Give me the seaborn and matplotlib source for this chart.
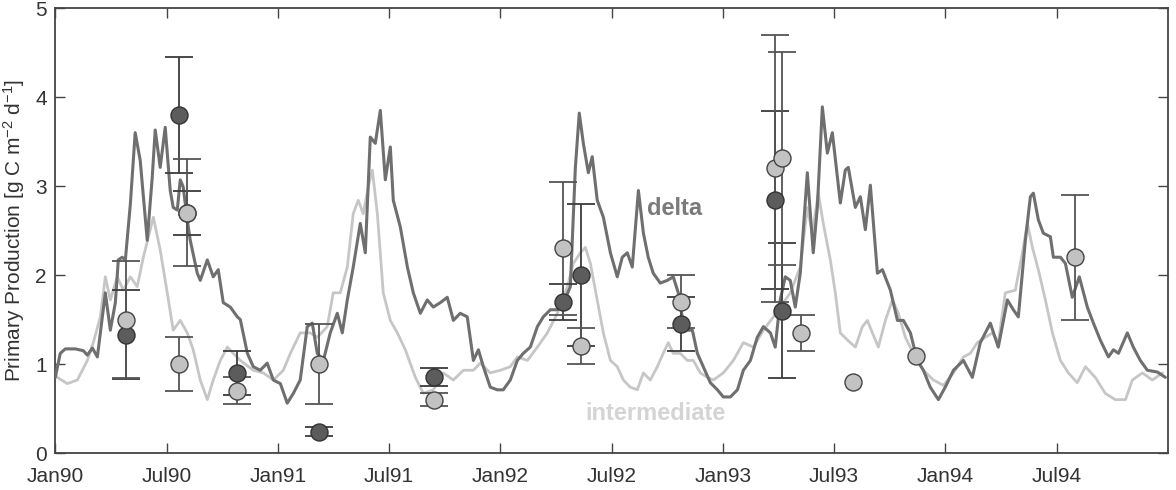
import numpy as np
import pandas as pd
import matplotlib
matplotlib.use("Agg")
import matplotlib.pyplot as plt
import seaborn as sns

# ------------------------
# DADOS (meses desde Jan90)
# ------------------------
delta_t = [0, 0.27, 0.54, 1.08, 1.51, 1.73, 2.0, 2.27, 2.7, 2.97, 3.24, 3.4, 3.61, 3.78, 4.05, 4.31,
           4.58, 4.96, 5.23, 5.39, 5.66, 5.93, 6.2, 6.36, 6.58, 6.74, 6.9, 7.12, 7.28, 7.66, 7.82, 8.2,
           8.52, 8.79, 9.06, 9.44, 9.82, 9.98, 10.36, 10.68, 11.06, 11.43, 11.76, 12.14, 12.51, 12.84,
           13.21, 13.59, 13.86, 14.13, 14.46, 14.83, 15.21, 15.48, 15.75, 16.07, 16.45, 16.72, 16.99,
           17.26, 17.53, 17.8, 18.07, 18.23, 18.61, 18.99, 19.31, 19.69, 20.06, 20.39, 20.77, 21.14,
           21.47, 21.84, 22.22, 22.55, 22.82, 23.09, 23.46, 23.84, 24.16, 24.54, 24.92, 25.24, 25.62,
           26.0, 26.32, 26.7, 27.08, 27.4, 27.78, 28.05, 28.26, 28.48, 28.75, 28.96, 29.23, 29.56,
           29.94, 30.31, 30.58, 30.85, 31.12, 31.45, 31.72, 31.98, 32.25, 32.63, 33.01, 33.33, 33.6,
           33.87, 34.14, 34.36, 34.63, 34.95, 35.33, 35.71, 36.03, 36.41, 36.79, 37.11, 37.49, 37.86,
           38.19, 38.57, 38.83, 39.1, 39.37, 39.64, 39.91, 40.18, 40.56, 40.88, 41.1, 41.37, 41.64,
           41.91, 42.34, 42.61, 42.77, 43.15, 43.42, 43.69, 43.96, 44.34, 44.61, 45.04, 45.42, 45.74,
           46.12, 46.49, 46.82, 47.19, 47.63, 48.0, 48.44, 48.98, 49.46, 49.89, 50.43, 50.86, 51.35,
           51.67, 51.94, 52.32, 52.59, 52.75, 53.02, 53.29, 53.67, 53.83, 54.21, 54.48, 54.85, 55.23,
           55.66, 55.99, 56.36, 56.8, 57.07, 57.34, 57.82, 58.14, 58.52, 58.9, 59.44, 59.87]
delta_pp = [0.85, 1.12, 1.17, 1.17, 1.15, 1.1, 1.18, 1.08, 1.8, 1.38, 1.69, 2.17, 2.2, 2.17, 2.8, 3.6,
            3.29, 2.39, 3.1, 3.63, 3.21, 3.66, 2.95, 2.76, 2.73, 3.07, 2.99, 2.62, 2.39, 2.02, 1.94, 2.17,
            1.98, 2.06, 1.69, 1.64, 1.53, 1.5, 1.12, 0.97, 0.93, 1.01, 0.82, 0.78, 0.56, 0.67,
            0.82, 1.42, 1.46, 1.12, 1.04, 1.35, 1.57, 1.35, 1.72, 2.09, 2.58, 2.25, 3.55,
            3.48, 3.85, 3.07, 3.44, 2.84, 2.54, 2.09, 1.8, 1.57, 1.72, 1.64, 1.69, 1.75,
            1.49, 1.57, 1.53, 1.04, 1.16, 0.97, 0.74, 0.71, 0.71, 0.82, 1.04, 1.12, 1.19,
            1.42, 1.53, 1.61, 1.61, 1.68, 1.87, 3.21, 3.82, 3.48, 3.15, 3.33, 2.84, 2.65,
            2.25, 1.98, 2.2, 2.25, 2.09, 2.95, 2.47, 2.2, 2.02, 1.91, 1.94, 1.98, 1.8,
            1.46, 1.38, 1.38, 1.12, 0.97, 0.79, 0.71, 0.63, 0.63, 0.71, 0.93, 1.04, 1.3,
            1.42, 1.35, 1.19, 1.72, 1.98, 1.94, 1.64, 2.02, 3.15, 2.25, 2.76, 3.89, 3.37,
            3.6, 2.81, 3.18, 3.21, 2.76, 2.88, 2.51, 3.01, 2.02, 2.06, 1.83, 1.49, 1.49,
            1.35, 1.04, 0.93, 0.74, 0.6, 0.74, 0.93, 1.04, 0.85, 1.24, 1.46, 1.19, 1.72,
            1.61, 1.53, 2.39, 2.88, 2.92, 2.62, 2.47, 2.43, 2.2, 2.2, 2.13, 1.75, 1.98,
            1.64, 1.46, 1.27, 1.08, 1.16, 1.12, 1.35, 1.19, 1.04, 0.93, 0.91, 0.85]

inter_t = [0, 0.11, 0.65, 1.19, 1.73, 2.05, 2.43, 2.7, 2.97, 3.34, 3.67, 4.05, 4.42, 4.75, 5.29, 5.66,
           6.04, 6.36, 6.74, 7.12, 7.44, 7.82, 8.2, 8.52, 8.9, 9.28, 9.6, 9.98, 10.68, 11.22, 11.76,
           12.3, 12.68, 13.21, 13.75, 14.13, 14.67, 14.99, 15.37, 15.75, 16.07, 16.34, 16.61, 16.88,
           17.1, 17.37, 17.69, 18.07, 18.45, 18.88, 19.42, 19.85, 20.39, 20.93, 21.47, 22.01, 22.55,
           22.92, 23.46, 24.0, 24.54, 24.92, 25.46, 26.0, 26.54, 27.08, 27.62, 27.94, 28.32, 28.59,
           28.86, 29.23, 29.56, 29.94, 30.31, 30.64, 31.01, 31.39, 31.72, 32.09, 32.47, 32.79, 33.06,
           33.33, 33.71, 34.09, 34.41, 34.79, 35.17, 35.49, 36.03, 36.57, 37.11, 37.65, 38.19, 38.73,
           39.64, 40.18, 40.56, 40.83, 41.15, 41.42, 41.8, 42.07, 42.34, 42.72, 43.15, 43.53, 43.8,
           44.07, 44.39, 44.77, 45.15, 45.47, 45.85, 46.28, 46.82, 47.36, 47.9, 48.44, 48.98, 49.35,
           49.73, 50.16, 50.54, 50.86, 51.24, 51.78, 52.16, 52.43, 52.7, 53.02, 53.4, 53.78, 54.21,
           54.64, 55.12, 55.56, 56.09, 56.63, 57.17, 57.72, 58.09, 58.63, 59.17, 59.71]
inter_pp = [0.88, 0.85, 0.78, 0.82, 1.04, 1.24, 1.53, 1.98, 1.72, 1.98, 1.83, 1.98, 1.87, 2.2, 2.65, 2.28,
            1.8, 1.38, 1.49, 1.35, 1.16, 0.82, 0.6, 0.82, 1.04, 1.19, 1.12, 1.04, 0.93, 0.9, 0.82,
            0.93, 1.12, 1.35, 1.35, 1.3, 1.42, 1.8, 1.8, 2.09, 2.69, 2.84, 2.69, 2.99,
            3.18, 2.69, 1.8, 1.49, 1.35, 1.16, 0.85, 0.67, 0.71, 0.9, 0.82, 0.93, 0.93,
            1.01, 0.9, 0.93, 0.97, 1.08, 1.04, 1.19, 1.35, 1.57, 1.87, 2.13, 2.25, 2.31,
            2.13, 1.72, 1.35, 1.04, 0.97, 0.82, 0.74, 0.71, 0.9, 0.82, 0.97, 1.12, 1.24,
            1.12, 1.12, 1.04, 1.04, 0.9, 0.85, 0.82, 0.9, 1.04, 1.24, 1.19, 1.38, 1.53,
            1.8, 2.09, 2.76, 2.47, 2.92, 2.58, 2.17, 1.8, 1.35, 1.27, 1.19, 1.42, 1.49,
            1.35, 1.19, 1.49, 1.72, 1.57, 1.3, 1.12, 0.93, 0.82, 0.76, 0.9, 1.08, 1.12,
            1.24, 1.3, 1.35, 1.24, 1.8, 1.83, 2.25, 2.58, 2.31, 2.06, 1.72, 1.35, 1.04,
            0.9, 0.79, 0.97, 0.85, 0.67, 0.6, 0.6, 0.82, 0.9, 0.82, 0.9]

# observações (média +/- desvio)
obs_delta_t = [3.83, 6.69, 7.1, 9.8, 14.24, 20.44, 27.4, 28.37, 33.76, 38.83, 39.2]
obs_delta_pp = [1.33, 3.8, 2.7, 0.9, 0.24, 0.85, 1.7, 2.0, 1.45, 2.84, 1.6]
obs_delta_err = [0.5, 0.65, 0.25, 0.25, 0.05, 0.1, 0.2, 0.8, 0.3, 1.0, 0.76]

obs_inter_t = [3.83, 6.69, 7.1, 9.8, 14.24, 20.44, 27.4, 28.37, 33.76, 38.83, 39.2, 40.24, 43.0, 46.4, 55.0]
obs_inter_pp = [1.5, 1.0, 2.7, 0.7, 1.0, 0.6, 2.3, 1.2, 1.7, 3.2, 3.31, 1.35, 0.8, 1.09, 2.2]
obs_inter_err = [0.66, 0.3, 0.6, 0.15, 0.45, 0.07, 0.75, 0.2, 0.3, 1.5, 1.2, 0.2, np.nan, np.nan, 0.7]

tick_pos = [0, 6, 12, 18, 24, 30, 36, 42, 48, 54]
tick_labels = ["Jan90", "Jul90", "Jan91", "Jul91", "Jan92", "Jul92", "Jan93", "Jul93", "Jan94", "Jul94"]

# ------------------------
# ESTILO
# ------------------------
sns.set_style("ticks")
plt.rcParams["font.family"] = ["Liberation Sans", "DejaVu Sans"]
plt.rcParams["mathtext.fontset"] = "custom"
plt.rcParams["mathtext.rm"] = "Liberation Sans"
plt.rcParams["mathtext.it"] = "Liberation Sans:italic"

DARK_LINE = "#6f6f6f"
LIGHT_LINE = "#c6c6c6"
DARK_FILL = "#5c5c5c"
LIGHT_FILL = "#c2c2c2"

fig = plt.figure(figsize=(11.76, 4.9), dpi=100)
ax = fig.add_axes([0.047, 0.0755, 0.946, 0.908])

df_delta = pd.DataFrame({"t": delta_t, "pp": delta_pp})
df_inter = pd.DataFrame({"t": inter_t, "pp": inter_pp})
sns.lineplot(data=df_inter, x="t", y="pp", color=LIGHT_LINE, lw=2.0, ax=ax, zorder=2)
sns.lineplot(data=df_delta, x="t", y="pp", color=DARK_LINE, lw=2.2, ax=ax, zorder=3)

# barras de erro
ax.errorbar(obs_delta_t, obs_delta_pp, yerr=obs_delta_err, fmt="none", ecolor="#3c3c3c",
            elinewidth=1.3, capsize=10, capthick=1.3, zorder=4)
ax.errorbar(obs_inter_t, obs_inter_pp, yerr=obs_inter_err, fmt="none", ecolor="#555555",
            elinewidth=1.3, capsize=10, capthick=1.3, zorder=4)

sns.scatterplot(x=obs_delta_t, y=obs_delta_pp, s=150, color=DARK_FILL, edgecolor="#333333",
                linewidth=1.0, ax=ax, zorder=5)
sns.scatterplot(x=obs_inter_t, y=obs_inter_pp, s=150, color=LIGHT_FILL, edgecolor="#444444",
                linewidth=1.0, ax=ax, zorder=6)

ax.text(33.4, 2.75, "delta", color="#7a7a7a", fontsize=17, fontweight="bold", ha="center", va="center")
ax.text(32.4, 0.44, "intermediate", color="#d4d4d4", fontsize=17, fontweight="bold",
        ha="center", va="center")

ax.set_xlim(0, 60)
ax.set_ylim(0, 5)
ax.set_xticks(tick_pos)
ax.set_xticklabels(tick_labels)
ax.set_yticks([0, 1, 2, 3, 4, 5])
ax.set_xlabel("")
ax.set_ylabel("Primary Production [g C m$^{-2}$ d$^{-1}$]", fontsize=15, color="#333333", labelpad=6)
ax.tick_params(direction="in", length=7, width=1.0, top=True, right=True, colors="#444444",
               labelcolor="#333333", labelsize=15)
ax.tick_params(axis="x", pad=10)
ax.tick_params(axis="y", pad=6)
for sp in ax.spines.values():
    sp.set_color("#444444")
    sp.set_linewidth(1.3)

fig.savefig("out.png", dpi=100)
